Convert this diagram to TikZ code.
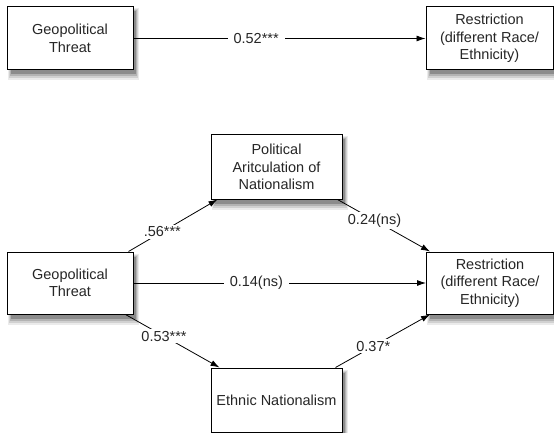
\documentclass[tikz,border=0pt]{standalone}
\usepackage{fontspec}
\setmainfont{Liberation Sans}
\usetikzlibrary{arrows.meta}
\begin{document}
\begin{tikzpicture}[x=1pt, y=-1pt,
    font=\fontsize{14.5}{17.5}\selectfont, text=black!85,
    factor/.style={draw, line width=1pt, fill=white, align=center, inner sep=0pt},
    link/.style={-{Latex[length=9pt,width=6pt]}, line width=0.8pt},
    coef/.style={fill=white, inner xsep=6pt, inner ysep=2pt}]
    \useasboundingbox (0,0) rectangle (554,433);

    % direct effect
    \node[factor, minimum width=126pt, minimum height=63pt] (geoA) at (70,38.5)  {Geopolitical\\Threat};
    \node[factor, minimum width=127pt, minimum height=63pt] (resA) at (489.5,38.5) {Restriction\\(different Race/\\Ethnicity)};

    % mediation model
    \node[factor, minimum width=126pt, minimum height=62pt] (geoB) at (70,283)  {Geopolitical\\Threat};
    \node[factor, minimum width=127pt, minimum height=62pt] (resB) at (490,283) {Restriction\\(different Race/\\Ethnicity)};
    \node[factor, minimum width=131pt, minimum height=64pt] (pol)  at (276.5,167) {Political\\Aritculation of\\Nationalism};
    \node[factor, minimum width=131pt, minimum height=64pt] (eth)  at (276.5,400) {Ethnic Nationalism};

    % soft shadows below and right of the boxes
    \foreach \n in {geoA,resA,geoB,resB,pol,eth}
      \foreach \sx/\sw/\sb/\st/\tone in {1/5/10/2/235, 2/4/8/3/209, 3/3/6/4/179, 4/2/4/5/140} {
        \fill[fill={rgb,255:red,\tone;green,\tone;blue,\tone}]
          ([xshift=\sx pt]\n.south west) rectangle ([shift={(\sw pt,-\sb pt)}]\n.south east);
        \fill[fill={rgb,255:red,\tone;green,\tone;blue,\tone}]
          (\n.south east) rectangle ([shift={(\sw pt,-\st pt)}]\n.north east);
      }

    \draw[link] (geoA) -- node[coef, pos=0.42] {0.52***} (resA);
    \draw[link] ([xshift=-5pt]geoB.north east) -- node[coef, pos=0.38] {.56***}    ([xshift=7pt]pol.south west);
    \draw[link] ([xshift=-8pt]geoB.south east) -- node[coef, pos=0.41] {0.53***}   ([xshift=9pt]eth.north west);
    \draw[link] (geoB) -- node[coef, pos=0.42] {0.14(ns)} (resB);
    \draw[link] ([xshift=-5pt]pol.south east)  -- node[coef, pos=0.40] {0.24(ns)}  ([xshift=4pt]resB.north west);
    \draw[link] ([xshift=-7pt]eth.north east)  -- node[coef, pos=0.40] {0.37*}     ([xshift=4pt]resB.south west);
\end{tikzpicture}
\end{document}
